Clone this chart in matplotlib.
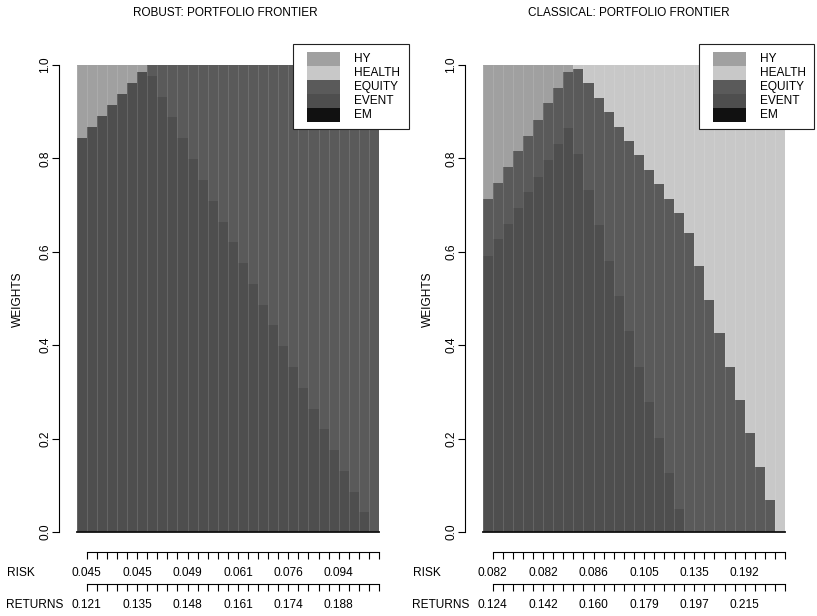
import numpy as np
import matplotlib
matplotlib.use("Agg")
import matplotlib.pyplot as plt
from matplotlib.patches import Rectangle

plt.rcParams['font.family'] = ['Liberation Sans', 'DejaVu Sans']

# ---------------- data ----------------
assets = ["HY", "HEALTH", "EQUITY", "EVENT", "EM"]          # legend order (top -> bottom)
colors = {"HY": "#a0a0a0", "HEALTH": "#c8c8c8", "EQUITY": "#5a5a5a",
          "EVENT": "#4e4e4e", "EM": "#111111"}
stack_order = ["EM", "EVENT", "EQUITY", "HEALTH", "HY"]     # bottom -> top

robust_HY = [0.157, 0.133, 0.109, 0.086, 0.062, 0.038, 0.014, 0, 0, 0,
             0, 0, 0, 0, 0, 0, 0, 0, 0, 0,
             0, 0, 0, 0, 0, 0, 0, 0, 0, 0]
robust_HEALTH = [0] * 30
robust_EQUITY = [0, 0, 0, 0, 0, 0, 0, 0.024, 0.068, 0.112,
                 0.157, 0.201, 0.246, 0.291, 0.336, 0.380, 0.423, 0.468, 0.514, 0.557,
                 0.602, 0.646, 0.691, 0.736, 0.779, 0.824, 0.869, 0.914, 0.958, 1.0]
robust_EVENT = [0.843, 0.867, 0.891, 0.914, 0.938, 0.962, 0.986, 0.976, 0.932, 0.888,
                0.843, 0.799, 0.754, 0.709, 0.664, 0.620, 0.577, 0.532, 0.486, 0.443,
                0.398, 0.354, 0.309, 0.264, 0.221, 0.176, 0.131, 0.086, 0.042, 0.0]
robust_EM = [0] * 30

classical_HY = [0.287, 0.252, 0.218, 0.185, 0.151, 0.118, 0.082, 0.049, 0.014, 0,
                0, 0, 0, 0, 0, 0, 0, 0, 0, 0,
                0, 0, 0, 0, 0, 0, 0, 0, 0, 0]
classical_HEALTH = [0, 0, 0, 0, 0, 0, 0, 0, 0, 0.009,
                    0.039, 0.070, 0.101, 0.132, 0.163, 0.193, 0.224, 0.255, 0.286, 0.317,
                    0.360, 0.431, 0.503, 0.574, 0.646, 0.717, 0.788, 0.860, 0.931, 1.0]
classical_EQUITY = [0.121, 0.121, 0.122, 0.121, 0.122, 0.121, 0.121, 0.120, 0.120, 0.182,
                    0.229, 0.273, 0.319, 0.363, 0.406, 0.453, 0.498, 0.543, 0.588, 0.633,
                    0.640, 0.569, 0.497, 0.426, 0.354, 0.283, 0.212, 0.140, 0.069, 0.0]
classical_EVENT = [0.592, 0.627, 0.660, 0.694, 0.727, 0.761, 0.797, 0.831, 0.866, 0.809,
                   0.732, 0.657, 0.580, 0.505, 0.431, 0.354, 0.278, 0.202, 0.126, 0.050,
                   0, 0, 0, 0, 0, 0, 0, 0, 0, 0]
classical_EM = [0] * 30

robust_risk_labels = ["0.045", "0.045", "0.049", "0.061", "0.076", "0.094"]
robust_return_labels = ["0.121", "0.135", "0.148", "0.161", "0.174", "0.188"]
classical_risk_labels = ["0.082", "0.082", "0.086", "0.105", "0.135", "0.192"]
classical_return_labels = ["0.124", "0.142", "0.160", "0.179", "0.197", "0.215"]

robust = {"HY": robust_HY, "HEALTH": robust_HEALTH, "EQUITY": robust_EQUITY,
          "EVENT": robust_EVENT, "EM": robust_EM}
classical = {"HY": classical_HY, "HEALTH": classical_HEALTH, "EQUITY": classical_EQUITY,
             "EVENT": classical_EVENT, "EM": classical_EM}

# ---------------- layout helpers ----------------
W, H = 817, 616
fig = plt.figure(figsize=(W / 100, H / 100), dpi=100)


def fx(px):
    return px / W


def fy(py):
    return 1 - py / H


FS = 8.6
n = 30
label_every = 5


def panel(left_px, data, title, title_cx, risk_labels, ret_labels, legend_box, row_label_x, ylab_x):
    ax = fig.add_axes([fx(left_px), fy(532), 302.3 / W, 467 / H])
    x = np.arange(n)
    bottom = np.zeros(n)
    for name in stack_order:
        vals = np.asarray(data[name], dtype=float)
        m = vals > 0
        if m.any():
            ax.bar(x[m], vals[m], width=1.0, bottom=bottom[m], align='edge',
                   color=colors[name], edgecolor='none', linewidth=0)
        bottom = bottom + vals
    # thin lighter separators between adjacent bars
    ax.vlines(np.arange(0, n + 1), 0, 1, colors=[(1, 1, 1, 0.13)], linewidth=0.7, zorder=3)
    ax.set_xlim(0, n)
    ax.set_ylim(0, 1)
    ax.plot([0, n], [0, 0], color='#111111', lw=1.3, clip_on=False, zorder=5)

    for s in ['top', 'right', 'bottom']:
        ax.spines[s].set_visible(False)
    ax.spines['left'].set_position(('outward', 13))
    ax.spines['left'].set_bounds(0, 1)
    ax.spines['left'].set_linewidth(0.8)
    ax.tick_params(axis='x', bottom=False, labelbottom=False)
    yt = [0.0, 0.2, 0.4, 0.6, 0.8, 1.0]
    ax.set_yticks(yt)
    ax.set_yticklabels([f"{v:.1f}" for v in yt], rotation=90, va='center')
    ax.tick_params(axis='y', length=5, width=0.8, labelsize=FS, pad=0.5)

    ticks = np.arange(1, n + 1)
    for loc_px, labs in [(552, risk_labels), (584, ret_labels)]:
        sec = ax.secondary_xaxis((532 - loc_px) / 467)
        tl = [''] * n
        for k, lab in enumerate(labs):
            tl[k * label_every] = lab
        sec.set_xticks(ticks)
        sec.set_xticklabels(tl)
        sec.spines['bottom'].set_bounds(1, n)
        sec.spines['bottom'].set_linewidth(0.8)
        sec.tick_params(axis='x', length=5, width=0.8, labelsize=FS, pad=5.5)

    fig.text(fx(row_label_x), fy(573), "RISK", fontsize=FS, ha='left', va='center')
    fig.text(fx(row_label_x - 1), fy(605), "RETURNS", fontsize=FS, ha='left', va='center')
    fig.text(fx(ylab_x), fy(299), "WEIGHTS", fontsize=FS, ha='center', va='center', rotation=90)
    fig.text(fx(title_cx), fy(13.5), title, fontsize=8.5, ha='center', va='center')

    # legend
    bx0, by0, bx1, by1 = legend_box
    fig.add_artist(Rectangle((fx(bx0), fy(by1)), (bx1 - bx0) / W, (by1 - by0) / H,
                             transform=fig.transFigure, facecolor='white',
                             edgecolor='#222222', lw=0.8, zorder=10))
    row_h = 13.9
    for k, name in enumerate(assets):
        top = 52.3 + k * row_h
        fig.add_artist(Rectangle((fx(bx0 + 14), fy(top + row_h)), 33 / W, row_h / H,
                                 transform=fig.transFigure, facecolor=colors[name],
                                 edgecolor='none', zorder=11))
        fig.text(fx(bx0 + 61), fy(top + row_h / 2), name, fontsize=FS,
                 ha='left', va='center', zorder=12)
    return ax


panel(76.7, robust, "ROBUST: PORTFOLIO FRONTIER", 225,
      robust_risk_labels, robust_return_labels, (293, 44, 409, 129), 7, 18)
panel(482.7, classical, "CLASSICAL: PORTFOLIO FRONTIER", 629,
      classical_risk_labels, classical_return_labels, (699, 44, 814, 129), 413, 428)

fig.savefig("out.png", dpi=100)
